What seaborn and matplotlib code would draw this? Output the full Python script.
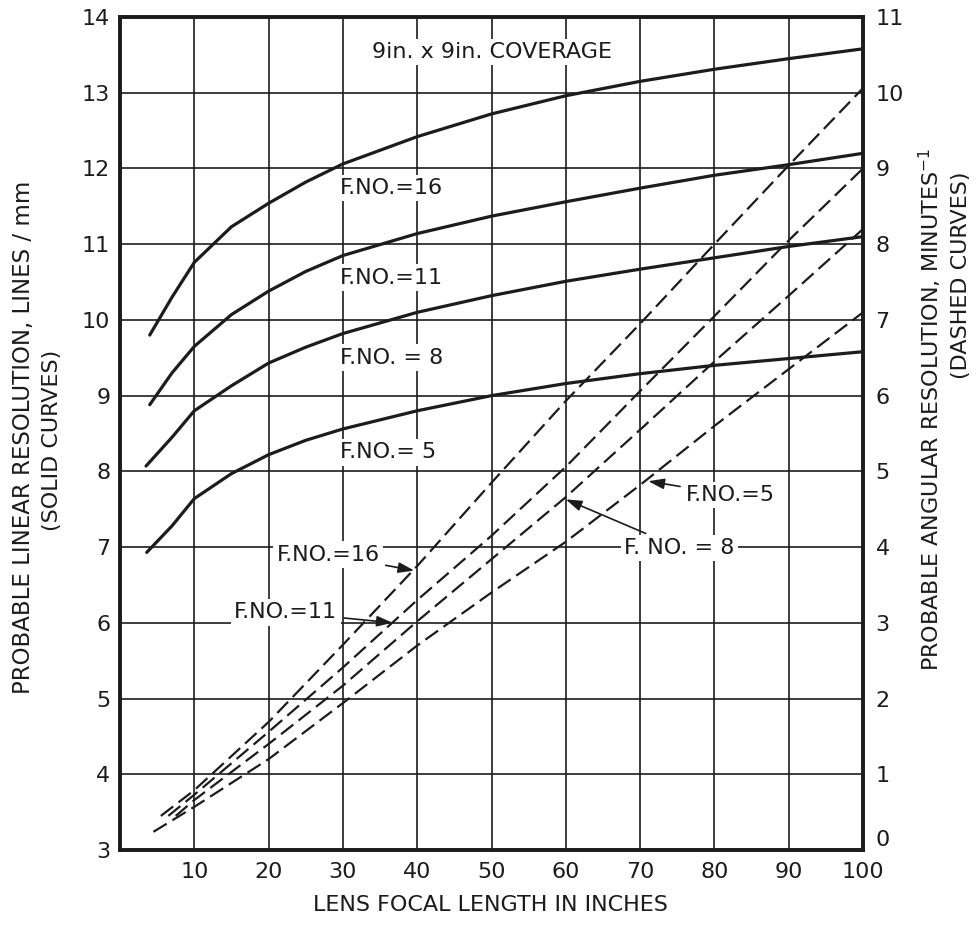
import matplotlib
matplotlib.use("Agg")
import matplotlib.pyplot as plt
import seaborn as sns
import pandas as pd

# ---------------- data ----------------
# Solid curves: probable linear resolution (lines/mm), left axis
x_solid_16 = [4, 7, 10, 15, 20, 25, 30, 40, 50, 60, 70, 80, 90, 100]
y_solid_16 = [9.8, 10.3, 10.76, 11.23, 11.54, 11.82, 12.06, 12.42, 12.72, 12.96, 13.15, 13.31, 13.45, 13.58]
x_solid_11 = [4, 7, 10, 15, 20, 25, 30, 40, 50, 60, 70, 80, 90, 100]
y_solid_11 = [8.88, 9.3, 9.65, 10.07, 10.38, 10.64, 10.85, 11.14, 11.37, 11.56, 11.74, 11.91, 12.05, 12.2]
x_solid_8 = [3.5, 7, 10, 15, 20, 25, 30, 40, 50, 60, 70, 80, 90, 100]
y_solid_8 = [8.07, 8.45, 8.8, 9.13, 9.43, 9.64, 9.82, 10.1, 10.32, 10.51, 10.67, 10.82, 10.97, 11.1]
x_solid_5 = [3.6, 7, 10, 15, 20, 25, 30, 40, 50, 60, 70, 80, 90, 100]
y_solid_5 = [6.93, 7.28, 7.64, 7.97, 8.22, 8.41, 8.56, 8.8, 9.0, 9.16, 9.29, 9.4, 9.49, 9.58]

# Dashed curves: probable angular resolution (minutes^-1), right axis
x_dash_16 = [5.5, 10, 20, 30, 40, 50, 60, 70, 80, 90, 100]
y_dash_16 = [0.45, 0.79, 1.69, 2.71, 3.75, 4.85, 5.93, 6.95, 8.0, 9.04, 10.06]
x_dash_11 = [6.5, 10, 20, 30, 40, 50, 60, 70, 80, 90, 100]
y_dash_11 = [0.45, 0.73, 1.56, 2.41, 3.3, 4.15, 5.06, 6.06, 7.05, 8.05, 9.0]
x_dash_8 = [7.5, 10, 20, 30, 40, 50, 60, 70, 80, 90, 100]
y_dash_8 = [0.45, 0.66, 1.40, 2.17, 3.02, 3.84, 4.66, 5.55, 6.45, 7.32, 8.2]
x_dash_5 = [4.5, 10, 20, 30, 40, 50, 60, 70, 80, 90, 100]
y_dash_5 = [0.24, 0.57, 1.2, 1.94, 2.7, 3.4, 4.07, 4.82, 5.6, 6.35, 7.1]

x_ticks = [10, 20, 30, 40, 50, 60, 70, 80, 90, 100]
left_ticks = [3, 4, 5, 6, 7, 8, 9, 10, 11, 12, 13, 14]
right_ticks = [0, 1, 2, 3, 4, 5, 6, 7, 8, 9, 10, 11]

solid_labels = ["F.NO.=16", "F.NO.=11", "F.NO. = 8", "F.NO.= 5"]
solid_label_y = [11.74, 10.56, 9.5, 8.25]

# ---------------- frames ----------------
def long_df(pairs, names, col):
    rows = []
    for (xs, ys), n in zip(pairs, names):
        for a, b in zip(xs, ys):
            rows.append({"focal": a, col: b, "fno": n})
    return pd.DataFrame(rows)

df_solid = long_df([(x_solid_16, y_solid_16), (x_solid_11, y_solid_11),
                    (x_solid_8, y_solid_8), (x_solid_5, y_solid_5)],
                   ["16", "11", "8", "5"], "lin")
df_dash = long_df([(x_dash_16, y_dash_16), (x_dash_11, y_dash_11),
                   (x_dash_8, y_dash_8), (x_dash_5, y_dash_5)],
                  ["16", "11", "8", "5"], "ang")

# ---------------- style ----------------
sns.set_style("white")
plt.rcParams["font.family"] = ["DejaVu Sans"]
ink = "#1c1c1c"
FS = 16

fig = plt.figure(figsize=(9.76, 9.47), dpi=100)
ax = fig.add_axes([120 / 976, 1 - 850 / 947, (863 - 120) / 976, (850 - 17) / 947])

sns.lineplot(data=df_solid, x="focal", y="lin", units="fno", estimator=None,
             color=ink, lw=2.3, ax=ax, zorder=3)
for ln in ax.lines:
    ln.set_solid_joinstyle("round")

ax.set_xlim(0, 100)
ax.set_ylim(3, 14)
ax.set_xticks(x_ticks)
ax.set_xticklabels([str(v) for v in x_ticks])
ax.set_yticks(left_ticks)
ax.set_yticklabels([str(v) for v in left_ticks])
ax.tick_params(axis="both", length=0, labelsize=FS, colors=ink)
ax.tick_params(axis="x", pad=9)
ax.tick_params(axis="y", pad=7)
ax.grid(True, color=ink, lw=1.2, zorder=1)
ax.set_axisbelow(True)
for sp in ax.spines.values():
    sp.set_visible(True)
    sp.set_color(ink)
    sp.set_linewidth(2.6)
ax.set_xlabel("")
ax.set_ylabel("")

ax2 = ax.twinx()
sns.lineplot(data=df_dash, x="focal", y="ang", units="fno", estimator=None,
             color=ink, lw=1.6, ax=ax2, zorder=3)
for ln in ax2.lines:
    ln.set_dashes((7, 3.0))
ax2.set_ylim(0, 11)
ax2.set_xlim(0, 100)
ax2.set_yticks(right_ticks)
ax2.set_yticklabels([str(v) for v in right_ticks])
ax2.tick_params(axis="y", length=0, labelsize=FS, colors=ink, pad=9)
ax2.set_ylabel("")
ax2.set_xlabel("")
for sp in ax2.spines.values():
    sp.set_linewidth(2.6)
    sp.set_color(ink)
ax2.get_yticklabels()[0].set_va("bottom")

box = dict(boxstyle="square,pad=0.15", fc="white", ec="none")

# title
ax2.text(50.1, 13.54 - 3, "9in. x 9in. COVERAGE", ha="center", va="center",
         fontsize=FS, color=ink, bbox=box, zorder=6)

# solid-curve labels (left axis values -> right axis = left - 3)
for lab, yv in zip(solid_labels, solid_label_y):
    ax2.text(29.6, yv - 3, lab, ha="left", va="center", fontsize=FS,
             color=ink, bbox=box, zorder=6)

arrow = dict(arrowstyle="-|>,head_length=0.6,head_width=0.2", color=ink, lw=1.2,
             shrinkA=2, shrinkB=0)
# dashed-curve labels with arrows (positions in right-axis units)
ax2.annotate("F.NO.=16", xy=(39.6, 3.69), xytext=(28.0, 3.9), ha="center", va="center",
             fontsize=FS, color=ink, bbox=box, arrowprops=arrow, zorder=6)
ax2.annotate("F.NO.=11", xy=(36.7, 3.0), xytext=(22.3, 3.14), ha="center", va="center",
             fontsize=FS, color=ink, bbox=box, arrowprops=arrow, zorder=6)
ax2.annotate("F. NO. = 8", xy=(60.0, 4.63), xytext=(75.3, 3.99), ha="center", va="center",
             fontsize=FS, color=ink, bbox=box, arrowprops=arrow, zorder=6)
ax2.annotate("F.NO.=5", xy=(71.1, 4.87), xytext=(82.2, 4.69), ha="center", va="center",
             fontsize=FS, color=ink, bbox=box, arrowprops=arrow, zorder=6)

# axis titles
fig.text(0.503, 1 - 905 / 947, "LENS FOCAL LENGTH IN INCHES", ha="center", va="center",
         fontsize=FS, color=ink)
fig.text(24 / 976, 1 - 437 / 947, "PROBABLE LINEAR RESOLUTION, LINES / mm", rotation=90,
         ha="center", va="center", fontsize=FS + 0.5, color=ink)
fig.text(52 / 976, 1 - 440 / 947, "(SOLID CURVES)", rotation=90,
         ha="center", va="center", fontsize=FS, color=ink)
fig.text(930 / 976, 1 - 410 / 947, "PROBABLE ANGULAR RESOLUTION, MINUTES$^{-1}$", rotation=90,
         ha="center", va="center", fontsize=FS, color=ink)
fig.text(961 / 976, 1 - 275 / 947, "(DASHED CURVES)", rotation=90,
         ha="center", va="center", fontsize=FS, color=ink)

fig.savefig("out.png", dpi=100, facecolor="white")
